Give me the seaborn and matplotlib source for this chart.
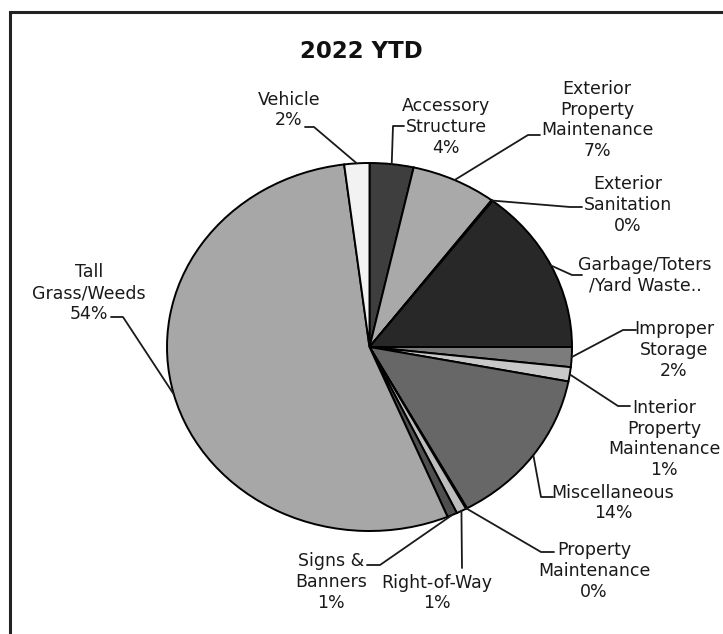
import numpy as np
import pandas as pd
import matplotlib
matplotlib.use("Agg")
import matplotlib.pyplot as plt
from matplotlib.lines import Line2D
from matplotlib.patches import Rectangle
import seaborn as sns

# ---------------- data ----------------
title = "2022 YTD"
categories = ["Accessory Structure", "Exterior Property Maintenance", "Exterior Sanitation",
              "Garbage/Toters/Yard Waste", "Improper Storage", "Interior Property Maintenance",
              "Miscellaneous", "Property Maintenance", "Right-of-Way", "Signs & Banners",
              "Tall Grass/Weeds", "Vehicle"]
values = [3.5, 6.8, 0.1, 14.6, 1.75, 1.25, 14.0, 0.1, 0.8, 0.8, 54.3, 2.0]
label_names = ["Accessory\nStructure", "Exterior\nProperty\nMaintenance", "Exterior\nSanitation",
               "Garbage/Toters\n/Yard Waste..", "Improper\nStorage", "Interior\nProperty\nMaintenance",
               "Miscellaneous", "Property\nMaintenance", "Right-of-Way", "Signs &\nBanners",
               "Tall\nGrass/Weeds", "Vehicle"]
show_pct = [True, True, True, False, True, True, True, True, True, True, True, True]
slice_colors = ["#3e3e3e", "#a9a9a9", "#8a8a8a", "#282828", "#7c7c7c", "#c8c8c8",
                "#676767", "#b4b4b4", "#bdbdbd", "#4f4f4f", "#a7a7a7", "#f2f2f2"]

# ---------------- layout (image pixel coords, y down) ----------------
W, H = 723, 634
label_xy = [(446, 127), (597, 120), (628, 205), (645, 275), (674, 350), (664, 439),
            (613, 503), (594, 571), (437, 593), (331, 582), (89, 293), (289, 110)]
anchor_xy = [(404, 126), (540, 135), (582, 207), (582, 275), (636, 330), (630, 406),
             (553, 497), (554, 552), (462, 568), (367, 565), (111, 317), (305, 127)]
corner_x = [393, 528, 570, 572, 623, 618, 541, 541, 462, 380, 123, 314]

sns.set_theme(style="white")
plt.rcParams["font.family"] = ["DejaVu Sans"]

fig = plt.figure(figsize=(W / 100, H / 100), dpi=100)
fig.patch.set_facecolor("white")


def fx(x):
    return x / W


def fy(y):
    return 1 - y / H


# pie axes (slightly elliptical like the reference)
pl, pr, pt, pb = 167, 572, 163, 531
axp = fig.add_axes([fx(pl), fy(pb), (pr - pl) / W, (pb - pt) / H])
palette = sns.color_palette(slice_colors)
wedges, _ = axp.pie(values, colors=palette, startangle=90, counterclock=False, radius=1,
                    wedgeprops=dict(edgecolor="black", linewidth=1.4))
for w in wedges:
    w.set_clip_on(False)
axp.set_xlim(-1, 1)
axp.set_ylim(-1, 1)
axp.set_aspect("auto")
axp.axis("off")

total = float(np.sum(values))
pcts = [int(np.floor(v / total * 100 + 0.5 + 1e-9)) for v in values]

fig.canvas.draw()
to_fig = fig.transFigure.inverted()

for i, w in enumerate(wedges):
    mid = np.deg2rad((w.theta1 + w.theta2) / 2)
    px, py = to_fig.transform(axp.transData.transform((np.cos(mid), np.sin(mid))))
    ax_, ay_ = anchor_xy[i]
    xs = [fx(ax_), fx(corner_x[i]), px]
    ys = [fy(ay_), fy(ay_), py]
    fig.add_artist(Line2D(xs, ys, transform=fig.transFigure, color="#1a1a1a", lw=1.3))
    txt = label_names[i] + (f"\n{pcts[i]}%" if show_pct[i] else "")
    lx, ly = label_xy[i]
    fig.text(fx(lx), fy(ly), txt, ha="center", va="center", multialignment="center",
             fontsize=12.5, color="#1a1a1a", linespacing=1.2)

fig.text(fx(361), fy(52), title, ha="center", va="center", fontsize=16.5,
         fontweight="bold", color="#111111")

# chart border (right and bottom edges fall outside the crop)
fig.add_artist(Rectangle((fx(10), fy(660)), fx(760) - fx(10), fy(12) - fy(660),
                         transform=fig.transFigure, fill=False, edgecolor="#222222", lw=2.2))

fig.savefig("out.png", dpi=100)
